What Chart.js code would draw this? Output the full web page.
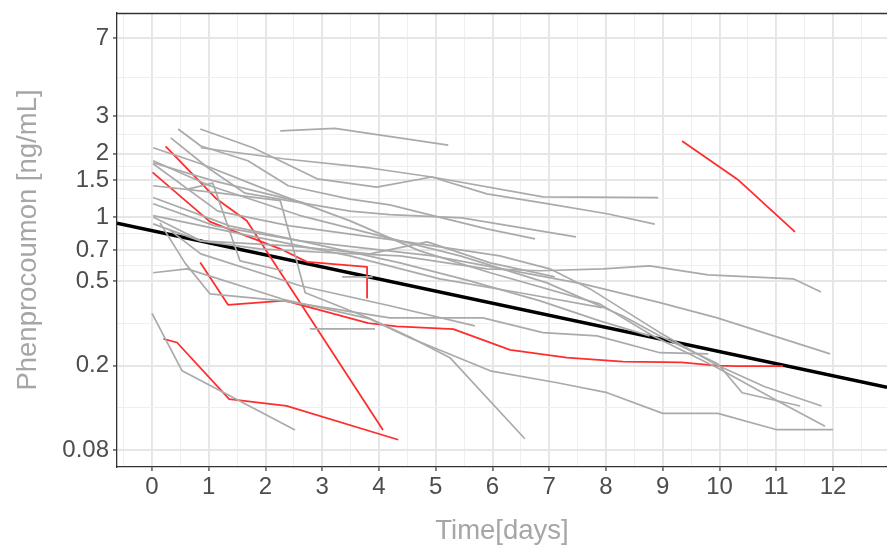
<!DOCTYPE html>
<html><head><meta charset="utf-8">
<script src="https://cdn.jsdelivr.net/npm/chart.js@4.4.1/dist/chart.umd.min.js"></script>
<style>html,body{margin:0;padding:0;background:#fff;overflow:hidden}canvas{display:block}</style>
</head><body>
<canvas id="c" width="887" height="550"></canvas>
<script>
// ---- tick labels ----
const yTickValues = [0.08, 0.2, 0.5, 0.7, 1, 1.5, 2, 3, 7];
const xTickValues = [0, 1, 2, 3, 4, 5, 6, 7, 8, 9, 10, 11, 12];

// ---- individual profiles (time in days, concentration ng/mL) ----
const gray01_t = [2.26, 3.22, 5.22];
const gray01_c = [2.56, 2.63, 2.19];
const gray02_t = [0.85, 1.78, 2.91, 3.96, 4.93, 5.90, 6.96, 8.02, 8.86];
const gray02_c = [2.61, 2.13, 1.52, 1.39, 1.55, 1.29, 1.16, 1.04, 0.93];
const gray03_t = [0.86, 2.31, 3.84, 4.93, 6.89, 8.92];
const gray03_c = [2.13, 1.89, 1.71, 1.55, 1.25, 1.24];
const gray04_t = [0.33, 0.99, 1.64, 2.40, 3.49, 4.19, 5.46, 7.47];
const gray04_c = [2.37, 1.71, 1.30, 1.20, 1.07, 1.03, 0.995, 0.809];
const gray05_t = [0.46, 0.86, 1.69, 2.40, 3.49, 4.19, 4.95, 5.90, 6.75];
const gray05_c = [2.61, 2.17, 1.85, 1.41, 1.22, 1.145, 1.02, 0.883, 0.792];
const gray06_t = [0.02, 1.02, 2.61, 4.02, 5.43, 6.96, 8.30, 8.95, 9.97, 10.40, 11.42];
const gray06_c = [1.85, 1.41, 1.02, 0.818, 0.658, 0.491, 0.343, 0.276, 0.204, 0.149, 0.129];
const gray07_t = [0.02, 1.16, 2.43, 4.37, 6.13, 7.01, 7.72, 8.95, 9.97, 10.80, 11.80];
const gray07_c = [1.79, 1.07, 0.912, 0.775, 0.658, 0.572, 0.460, 0.286, 0.200, 0.159, 0.129];
const gray08_t = [0.02, 0.86, 2.08, 3.49, 4.72, 5.96, 7.89, 8.83, 9.97, 11.01, 11.86];
const gray08_c = [2.13, 1.79, 1.33, 0.963, 0.695, 0.548, 0.391, 0.276, 0.195, 0.137, 0.1035];
const gray09_t = [0.02, 0.62, 2.31, 3.84, 4.55, 5.96, 7.14, 8.02, 9.00, 9.97, 11.01, 12.00];
const gray09_c = [0.548, 0.572, 0.411, 0.332, 0.270, 0.189, 0.166, 0.149, 0.119, 0.119, 0.0997, 0.0997];
const gray10_t = [0.02, 0.85, 1.90, 3.14, 4.37, 5.90, 6.84, 7.95, 8.77, 9.80, 11.30, 11.79];
const gray10_c = [0.932, 0.775, 0.711, 0.681, 0.658, 0.572, 0.56, 0.572, 0.591, 0.536, 0.513, 0.445];
const gray11_t = [0.02, 1.37, 2.61, 4.95, 7.59, 8.95, 9.96, 11.95];
const gray11_c = [1.24, 0.912, 0.775, 0.658, 0.486, 0.396, 0.336, 0.227];
const gray12_t = [0.02, 0.86, 2.43, 3.84, 4.85, 5.96, 7.10];
const gray12_c = [1.005, 0.775, 0.734, 0.673, 0.766, 0.610, 0.5245];
const gray13_t = [0.02, 1.73, 3.49, 5.07, 6.48, 7.93];
const gray13_c = [1.02, 0.818, 0.658, 0.513, 0.441, 0.375];
const gray14_t = [0.33, 0.86, 2.61, 4.19, 5.69];
const gray14_c = [0.864, 0.673, 0.476, 0.383, 0.308];
const gray15_t = [0.02, 1.20, 2.26, 2.70, 3.81, 4.60, 5.25, 6.57];
const gray15_c = [1.41, 1.30, 1.20, 0.441, 0.336, 0.268, 0.218, 0.0904];
const gray16_t = [0.0, 0.53, 2.52];
const gray16_c = [0.353, 0.189, 0.0994];
const gray17_t = [0.14, 0.58, 1.02, 2.31, 4.19, 5.83, 6.89, 7.84, 8.95, 9.80];
const gray17_c = [0.942, 0.610, 0.436, 0.404, 0.336, 0.336, 0.286, 0.276, 0.23, 0.227];
const gray18_t = [0.63, 1.07, 1.55, 2.31];
const gray18_c = [1.36, 1.45, 0.624, 0.56];
const gray19_t = [0.02, 1.11, 2.61, 4.37, 5.60, 6.84, 7.89, 8.77];
const gray19_c = [1.16, 0.912, 0.775, 0.61, 0.502, 0.404, 0.325, 0.276];
const gray20_t = [0.02, 1.07, 2.68];
const gray20_c = [1.81, 1.49, 1.17];
const gray21_t = [2.78, 3.93];
const gray21_c = [0.298, 0.298];
const gray22_t = [3.35, 3.89];
const gray22_c = [0.524, 0.524];

const red1_t = [0.01, 1.02, 1.43, 2.26, 2.73, 3.79, 3.79];
const red1_c = [1.63, 0.955, 0.864, 0.711, 0.617, 0.584, 0.418];
const red2_t = [0.24, 1.14, 1.67, 4.07];
const red2_c = [2.16, 1.22, 0.963, 0.0994];
const red3_t = [0.85, 1.34, 2.34, 3.81, 4.31, 5.31, 6.31, 7.31, 8.30, 9.33, 9.95, 10.30, 11.12];
const red3_c = [0.612, 0.387, 0.405, 0.317, 0.306, 0.297, 0.237, 0.218, 0.209, 0.207, 0.200, 0.199, 0.199];
const red4_t = [0.20, 0.44, 1.36, 2.37, 4.34];
const red4_c = [0.267, 0.257, 0.139, 0.129, 0.0894];
const red5_t = [9.34, 10.32, 11.33];
const red5_c = [2.29, 1.51, 0.855];

// population fit line
const fit_t = [-0.617, 12.952];
const fit_c = [0.938, 0.158];

// ---- build datasets ----
const grayProfiles = [
  [gray01_t, gray01_c], [gray02_t, gray02_c], [gray03_t, gray03_c], [gray04_t, gray04_c],
  [gray05_t, gray05_c], [gray06_t, gray06_c], [gray07_t, gray07_c], [gray08_t, gray08_c],
  [gray09_t, gray09_c], [gray10_t, gray10_c], [gray11_t, gray11_c], [gray12_t, gray12_c],
  [gray13_t, gray13_c], [gray14_t, gray14_c], [gray15_t, gray15_c], [gray16_t, gray16_c],
  [gray17_t, gray17_c], [gray18_t, gray18_c], [gray19_t, gray19_c], [gray20_t, gray20_c],
  [gray21_t, gray21_c], [gray22_t, gray22_c]
];
const redProfiles = [[red1_t, red1_c], [red2_t, red2_c], [red3_t, red3_c], [red4_t, red4_c], [red5_t, red5_c]];

const toPts = (t, c) => t.map((x, i) => ({x: x, y: c[i]}));
const datasets = [];
grayProfiles.forEach(([t, c]) => datasets.push({data: toPts(t, c), borderColor: '#aaaaaa', borderWidth: 1.7}));
redProfiles.forEach(([t, c]) => datasets.push({data: toPts(t, c), borderColor: '#ff2e2e', borderWidth: 1.8}));
datasets.push({data: toPts(fit_t, fit_c), borderColor: '#000000', borderWidth: 3.4});

// grid positions: majors plus ggplot-like minors
const yMinor = [];
for (let i = 0; i < yTickValues.length - 1; i++) yMinor.push(Math.sqrt(yTickValues[i] * yTickValues[i + 1]));
const yAll = yTickValues.concat(yMinor).sort((a, b) => a - b);
const xAll = [];
for (let v = -0.5; v <= 12.5; v += 0.5) xAll.push(v);
const isMajorY = v => yTickValues.some(m => Math.abs(m - v) < 1e-9);
const isMajorX = v => xTickValues.includes(v);

const FONT = '"Liberation Sans", Arial, sans-serif';

const topBorder = {
  id: 'topBorder',
  afterDraw(chart) {
    const {ctx, chartArea: a} = chart;
    ctx.save();
    ctx.strokeStyle = '#333333';
    ctx.lineWidth = 1.3;
    ctx.beginPath();
    ctx.moveTo(a.left, a.top + 0.5);
    ctx.lineTo(a.right, a.top + 0.5);
    ctx.stroke();
    ctx.restore();
  }
};

new Chart(document.getElementById('c'), {
  type: 'line',
  data: {datasets: datasets},
  plugins: [topBorder],
  options: {
    responsive: false,
    animation: false,
    devicePixelRatio: 1,
    layout: {padding: {left: 0, right: 0, top: 13, bottom: 0}},
    plugins: {legend: {display: false}, tooltip: {enabled: false}},
    elements: {point: {radius: 0}, line: {tension: 0, borderJoinStyle: 'round', fill: false}},
    scales: {
      x: {
        type: 'linear', min: -0.617, max: 12.952, bounds: 'data',
        afterBuildTicks: s => { s.ticks = xAll.map(v => ({value: v})); },
        afterFit: s => { s.height = 83; s.paddingLeft = 0; s.paddingRight = 0; },
        ticks: {autoSkip: false, maxRotation: 0, padding: 2, color: '#4d4d4d',
          font: {family: FONT, size: 24},
          callback: v => isMajorX(v) ? String(v) : ''},
        grid: {
          color: c => (c.tick && isMajorX(c.tick.value)) ? '#e6e6e6' : '#efefef',
          lineWidth: c => (c.tick && isMajorX(c.tick.value)) ? 1.9 : 1.0,
          tickColor: c => (c.tick && isMajorX(c.tick.value)) ? '#333333' : 'rgba(0,0,0,0)',
          tickLength: 4, tickWidth: 1.2
        },
        border: {display: true, color: '#333333', width: 1.3},
        title: {display: true, text: 'Time[days]', color: '#a6a6a6',
          font: {family: FONT, size: 27.5}, padding: {top: 0, bottom: 2}}
      },
      y: {
        type: 'logarithmic', min: 0.0665, max: 9.2, bounds: 'data',
        afterBuildTicks: s => { s.ticks = yAll.map(v => ({value: v})); },
        afterFit: s => { s.width = 117; s.paddingTop = 0; s.paddingBottom = 0; },
        ticks: {autoSkip: false, padding: 4, color: '#4d4d4d',
          font: {family: FONT, size: 24},
          callback: v => isMajorY(v) ? String(v) : ''},
        grid: {
          color: c => (c.tick && isMajorY(c.tick.value)) ? '#e6e6e6' : '#efefef',
          lineWidth: c => (c.tick && isMajorY(c.tick.value)) ? 1.9 : 1.0,
          tickColor: c => (c.tick && isMajorY(c.tick.value)) ? '#333333' : 'rgba(0,0,0,0)',
          tickLength: 4, tickWidth: 1.2
        },
        border: {display: true, color: '#333333', width: 1.3},
        title: {display: true, text: 'Phenprocoumon [ng/mL]', color: '#a6a6a6',
          font: {family: FONT, size: 27.5}, padding: {top: 12, bottom: 0}}
      }
    }
  }
});
</script>
</body></html>
